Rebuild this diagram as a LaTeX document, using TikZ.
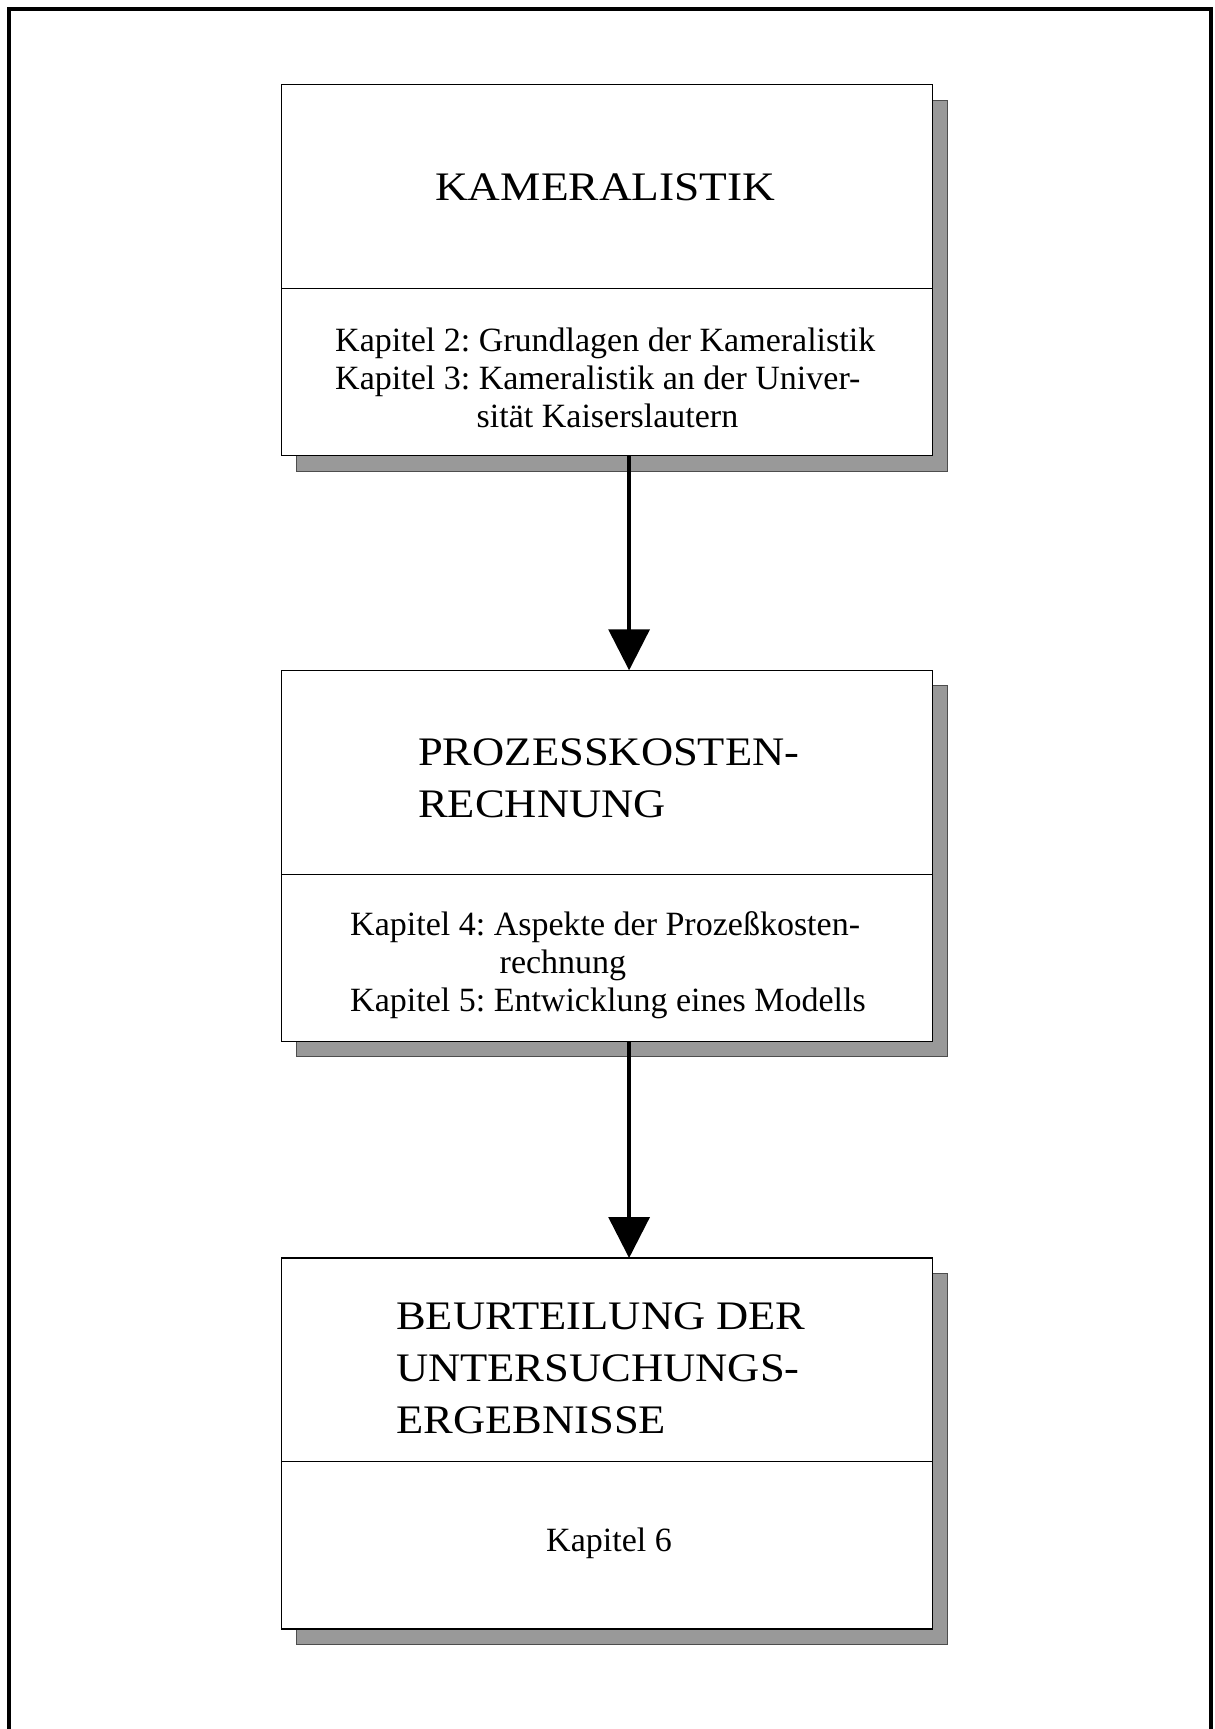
\documentclass[tikz,border=0pt]{standalone}
\usepackage{fontspec}
\setmainfont{Liberation Serif}
\newfontfamily\headfont[FakeStretch=1.1]{Liberation Serif}
\newfontfamily\titlefont[FakeStretch=1.12]{Liberation Serif}
\usetikzlibrary{arrows.meta,shadows}
\definecolor{shadefill}{HTML}{999999}
\definecolor{shadeedge}{HTML}{4D4D4D}
\begin{document}
\frenchspacing
\begin{tikzpicture}[x=1pt,y=-1pt,
  chapterbox/.style={draw=black, line width=1.3pt, fill=white, rectangle,
    inner sep=0pt, outer sep=0pt, minimum width=651pt, minimum height=371pt,
    drop shadow={shadow xshift=15.5pt, shadow yshift=-15.5pt,
      fill=shadefill, draw=shadeedge, line width=0.9pt, opacity=1}},
  heading/.style={anchor=base west, inner sep=0pt, font=\headfont\fontsize{40.5}{50}\selectfont},
  chapline/.style={anchor=base west, inner sep=0pt, font=\fontsize{34}{38}\selectfont},
  flow/.style={line width=3.3pt, -{Triangle[width=41pt,length=41pt]}},
  divider/.style={line width=1.3pt}]

% page area and open frame
\useasboundingbox (0,0) rectangle (1215,1729);
\fill[white] (0,0) rectangle (1215,1729);
\draw[line width=4pt, line join=miter] (9,1729) -- (9,8.5) -- (1211.3,8.5) -- (1211.3,1729);

% the three stages
\node[chapterbox] (b1) at (606.8,270) {};
\node[chapterbox] (b2) at (606.8,855.8) {};
\node[chapterbox] (b3) at (606.8,1443.5) {};

% split each box into heading and chapter part
\draw[divider] ([yshift=-204pt]b1.north west) -- ([yshift=-204pt]b1.north east);
\draw[divider] ([yshift=-204.5pt]b2.north west) -- ([yshift=-204.5pt]b2.north east);
\draw[divider] ([yshift=-203.5pt]b3.north west) -- ([yshift=-203.5pt]b3.north east);

% headings
\node[heading, font=\titlefont\fontsize{40.5}{50}\selectfont] (h1) at (435,200.5) {KAMERALISTIK};
\node[heading] (h2a) at (418,765) {PROZESSKOSTEN-};
\node[heading] (h2b) at (418,817) {RECHNUNG};
\node[heading] (h3a) at (396,1329) {BEURTEILUNG DER};
\node[heading] (h3b) at (396,1381.5) {UNTERSUCHUNGS-};
\node[heading] (h3c) at (396,1433) {ERGEBNISSE};

% chapter references
\node[chapline] (k1a) at (335,351) {Kapitel 2: Grundlagen der Kameralistik};
\node[chapline] (k1b) at (335,389.5) {Kapitel 3: Kameralistik an der Univer-};
\node[chapline] (k1c) at (476.5,427) {sität Kaiserslautern};
\node[chapline] (k2a) at (350,935) {Kapitel 4: Aspekte der Prozeßkosten-};
\node[chapline] (k2b) at (499.5,973.3) {rechnung};
\node[chapline] (k2c) at (350,1011.7) {Kapitel 5: Entwicklung eines Modells};
\node[chapline] (k3) at (546,1551.7) {Kapitel 6};

% flow between the stages
\draw[flow] ([xshift=22.3pt]b1.south) -- ([xshift=22.3pt]b2.north);
\draw[flow] ([xshift=22.3pt]b2.south) -- ([xshift=22.3pt]b3.north);
\end{tikzpicture}
\end{document}
